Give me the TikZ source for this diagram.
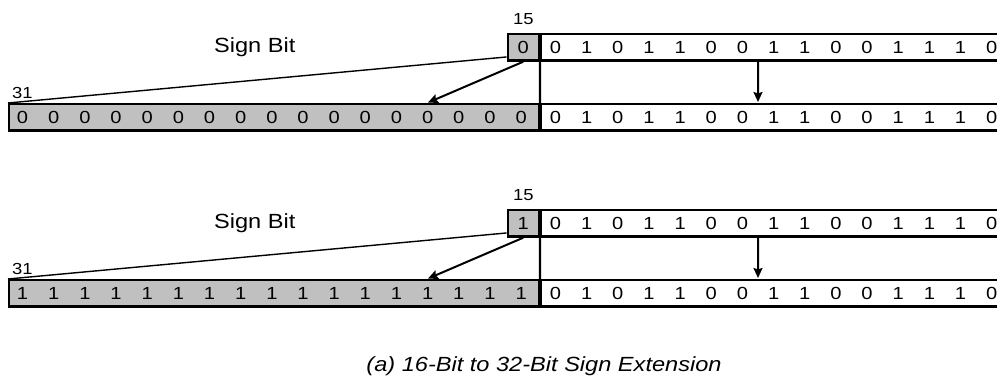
\documentclass[tikz,border=0pt]{standalone}
\usepackage{fontspec}
\setmainfont{Liberation Sans}[FakeStretch=1.15]
\usepackage{tikz}
\usetikzlibrary{positioning, arrows.meta}
\definecolor{signfill}{RGB}{192,192,192}

\begin{document}
\begin{tikzpicture}[
  x = 1pt, y = -1pt,
  field/.style = {draw, line width=2.2pt, inner sep=0pt, minimum height=26.5pt, font=\fontsize{17.5}{20}\selectfont},
  extfield/.style = {field, fill=signfill},
  bit/.style = {inner sep=0pt, font=\fontsize{17.5}{20}\selectfont},
  index/.style = {inner sep=0pt, font=\fontsize{16}{18}\selectfont},
  seta/.style = {-{Stealth[length=10pt, width=9pt, inset=1.5pt]}, line width=2pt, shorten >=1pt},
]
\useasboundingbox (0,0) rectangle (997,379);
\clip (0,0) rectangle (997,379);
\foreach \p/\sgn/\dy in {a/0/0, b/1/176} {
  \begin{scope}[shift={(0,\dy)}]
  % bit 15 with bits 14..0, then the 32-bit result below
  \node[extfield, minimum width=31.1pt, anchor=north west] (\p-sign) at (506.6,33) {\sgn};
  \node[field, minimum width=467.4pt, anchor=north west] (\p-hi) at (\p-sign.north east) {};
  \node[extfield, minimum width=529.7pt, anchor=north west] (\p-ext) at (8,103) {};
  \node[field, minimum width=467.4pt, anchor=north west] (\p-lo) at (\p-ext.north east) {};
  \draw[line width=2.2pt] (\p-hi.south west) -- (\p-lo.north west);
  \foreach \d [count=\i from 0] in {0,1,0,1,1,0,0,1,1,0,0,1,1,1,0} {
    \node[bit] (\p-hi\i) at ([xshift={(\i+0.5)*31.16pt}]\p-hi.west) {\d};
    \node[bit] (\p-lo\i) at ([xshift={(\i+0.5)*31.16pt}]\p-lo.west) {\d};
  }
  \foreach \i in {0,...,16}
    \node[bit] (\p-ext\i) at ([xshift={(\i+0.5)*31.16pt-1pt}]\p-ext.west) {\sgn};
  % bit numbers and label
  \node[index, above=8pt of \p-sign] (\p-msb) {15};
  \node[index, above right=4pt and 4pt of \p-ext.north west] (\p-top) {31};
  \node[inner sep=0pt, font=\fontsize{20.5}{24}\selectfont, left=211pt of \p-sign] (\p-label) {Sign Bit};
  % copying the sign bit
  \draw[line width=1.4pt] (\p-sign.210) -- (\p-ext.north west);
  \draw[seta] (\p-sign.south) -- ([xshift=419pt]\p-ext.north west);
  \draw[seta] ([xshift=218.1pt]\p-hi.south west) -- ([xshift=218.1pt]\p-lo.north west);
  \end{scope}
}
\node[font=\itshape\fontsize{20.5}{24}\selectfont] (caption) at (544,366) {(a) 16-Bit to 32-Bit Sign Extension};
\end{tikzpicture}
\end{document}
